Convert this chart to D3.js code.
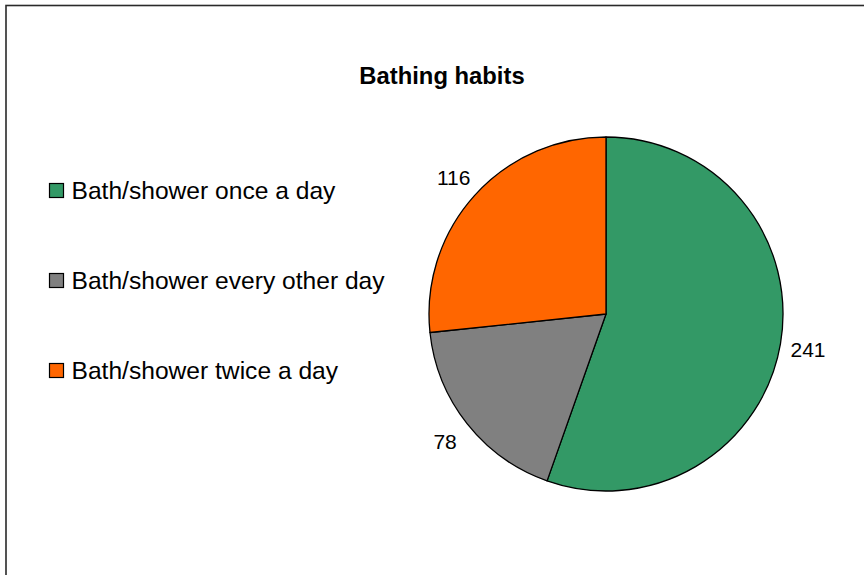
<!DOCTYPE html>
<html>
<head>
<meta charset="utf-8">
<script src="https://cdn.jsdelivr.net/npm/d3@7"></script>
<style>
  html, body { margin: 0; padding: 0; background: #fff; }
  svg { display: block; font-family: "Liberation Sans", Arial, sans-serif; }
</style>
</head>
<body>
<svg id="chart" width="864" height="575"></svg>
<script>
// Survey answers and their counts
const categories = [
  "Bath/shower once a day",
  "Bath/shower every other day",
  "Bath/shower twice a day"
];
const counts = [241, 78, 116];
const sliceColors = ["#339966", "#808080", "#FF6600"];
const chartTitle = "Bathing habits";

const svg = d3.select("#chart");

// Chart area frame (runs off the right and bottom edges)
svg.append("rect")
  .attr("x", 6).attr("y", 5.5)
  .attr("width", 900).attr("height", 620)
  .attr("fill", "#fff")
  .attr("stroke", "#2a2a2a")
  .attr("stroke-width", 1.6);

// Title
svg.append("text")
  .attr("x", 442).attr("y", 84)
  .attr("text-anchor", "middle")
  .attr("font-size", 23.8)
  .attr("font-weight", "bold")
  .attr("fill", "#000")
  .text(chartTitle);

// Pie
const cx = 606, cy = 314, radius = 177;
const color = d3.scaleOrdinal().domain(categories).range(sliceColors);
const pie = d3.pie().sort(null).value(d => d.value);
const slices = pie(categories.map((c, i) => ({ name: c, value: counts[i] })));

const arc = d3.arc().innerRadius(0).outerRadius(radius);
const labelArc = d3.arc().innerRadius(radius + 28).outerRadius(radius + 28);

const g = svg.append("g").attr("transform", `translate(${cx},${cy})`);

g.selectAll("path.slice")
  .data(slices)
  .join("path")
  .attr("class", "slice")
  .attr("d", arc)
  .attr("fill", d => color(d.data.name))
  .attr("stroke", "#000")
  .attr("stroke-width", 1.3)
  .attr("stroke-linejoin", "round");

g.selectAll("text.value")
  .data(slices)
  .join("text")
  .attr("class", "value")
  .attr("x", d => labelArc.centroid(d)[0])
  .attr("y", d => labelArc.centroid(d)[1] + 8)
  .attr("text-anchor", "middle")
  .attr("font-size", 21)
  .attr("fill", "#000")
  .text(d => d.data.value);

// Legend
const legendY = d3.scalePoint().domain(categories).range([190, 370]);
const legend = svg.append("g");
const rows = legend.selectAll("g.row")
  .data(categories)
  .join("g")
  .attr("class", "row")
  .attr("transform", d => `translate(0,${legendY(d)})`);

rows.append("rect")
  .attr("x", 49.5).attr("y", -6.5)
  .attr("width", 14).attr("height", 14)
  .attr("fill", d => color(d))
  .attr("stroke", "#000")
  .attr("stroke-width", 1.2);

rows.append("text")
  .attr("x", 71.5)
  .attr("y", 8.5)
  .attr("font-size", 24.6)
  .attr("fill", "#000")
  .text(d => d);
</script>
</body>
</html>
